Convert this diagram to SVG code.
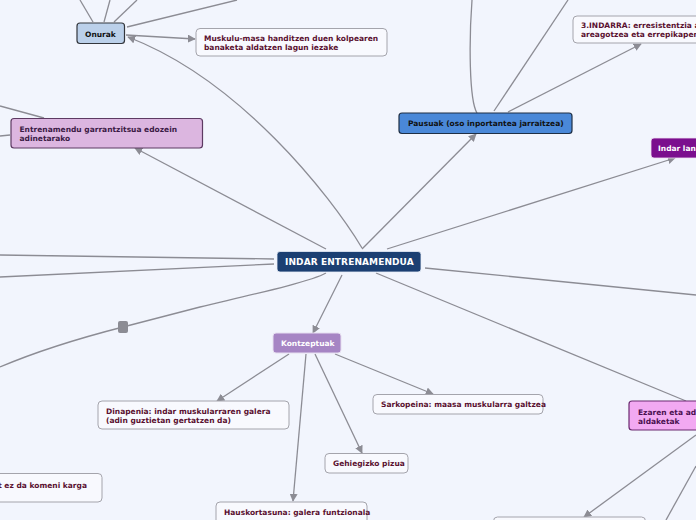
<svg xmlns="http://www.w3.org/2000/svg" width="696" height="520" viewBox="0 0 696 520">
<defs>
<marker id="arr" viewBox="0 0 10 10" refX="9" refY="5" markerWidth="8" markerHeight="8" markerUnits="userSpaceOnUse" orient="auto">
<path d="M0,0 L10,5 L0,10 z" fill="#8c8c94"/>
</marker>
</defs>
<style>
.c{fill:none;stroke:#8c8c94;stroke-width:1.3}
.a{marker-end:url(#arr)}
.t{font-family:"DejaVu Sans",Verdana,sans-serif;font-weight:bold;font-size:7.5px}
.w{fill:#f8f9fe;stroke:#a4a4ac;stroke-width:1}
.m{fill:#5a1030}
</style>
<rect width="696" height="520" fill="#f2f5fd"/>
<g id="connectors">
<path class="c a" d="M362,248 C330,195 240,80 128,37"/>
<path class="c a" d="M126,35 L195,39"/>
<path class="c" d="M93,22 L80,0"/>
<path class="c" d="M104,22 L110,0"/>
<path class="c" d="M114,22 L137,0"/>
<path class="c" d="M127,27 L237,0"/>
<path class="c" d="M44,118 L0,106"/>
<path class="c" d="M0,136 L10,135"/>
<path class="c a" d="M326,249 L135,148"/>
<path class="c a" d="M362,249 L476,134"/>
<path class="c" d="M477,113 C469,100 469,40 472,0"/>
<path class="c" d="M494,111 L568,0"/>
<path class="c a" d="M508,112 L641,44"/>
<path class="c a" d="M387,249 L675,158"/>
<path class="c" d="M425,268 L696,295"/>
<path class="c" d="M376,273 L686,401"/>
<path class="c a" d="M696,435 L584,517"/>
<path class="c" d="M696,466 L666,520"/>
<path class="c" d="M274,259 L0,255"/>
<path class="c" d="M274,264 L0,277"/>
<path class="c" d="M326,273 C310,282 250,295 200,307 L123,327 C80,338 40,350 0,367"/>
<path class="c a" d="M342,275 L313,333"/>
<path class="c a" d="M289,354 L217,401"/>
<path class="c a" d="M306,354 L293,501"/>
<path class="c a" d="M315,354 L362,453"/>
<path class="c a" d="M335,354 L433,394"/>
<rect x="118" y="321" width="10" height="12" rx="2" fill="#8c8c94"/>
</g>
<g id="center">
<rect x="277" y="251.5" width="144" height="20.5" rx="3" fill="#1b3f72" stroke="#e8eef8" stroke-width="0.8"/>
<text class="t" x="285" y="265" fill="#ffffff" font-size="9" style="font-size:9px;letter-spacing:0.1px">INDAR ENTRENAMENDUA</text>
</g>
<g id="onurak">
<rect x="77" y="23" width="47.5" height="20.5" rx="3" fill="#bbd0ea" stroke="#33363c" stroke-width="1.2"/>
<text class="t" x="85" y="36.5" fill="#111">Onurak</text>
</g>
<g id="muskulu">
<rect class="w" x="196" y="28.5" width="191" height="27.5" rx="4"/>
<text class="t m" x="204" y="40.5">Muskulu-masa handitzen duen kolpearen</text>
<text class="t m" x="204" y="49.5">banaketa aldatzen lagun iezake</text>
</g>
<g id="entrenamendu">
<rect x="11" y="118.5" width="191.5" height="29.5" rx="3" fill="#dcb6e0" stroke="#5d3a62" stroke-width="1.2"/>
<text class="t" x="19.5" y="132" fill="#3b1a45">Entrenamendu garrantzitsua edozein</text>
<text class="t" x="19.5" y="141" fill="#3b1a45">adinetarako</text>
</g>
<g id="pausuak">
<rect x="399" y="113" width="173" height="20.5" rx="3" fill="#4a88d8" stroke="#1f2f45" stroke-width="1.2"/>
<text class="t" x="408" y="126" fill="#111">Pausuak (oso inportantea jarraitzea)</text>
</g>
<g id="indarra3">
<rect class="w" x="573" y="16" width="140" height="27" rx="4"/>
<text class="t m" x="581" y="28">3.INDARRA: erresistentzia areagotzea</text>
<text class="t m" x="581" y="37">areagotzea eta errepikapenak</text>
</g>
<g id="indarlan">
<rect x="651" y="138" width="60" height="20" rx="3" fill="#7b0e8e" stroke="#f0e0f4" stroke-width="0.8"/>
<text class="t" x="658" y="150.5" fill="#ffffff">Indar lana</text>
</g>
<g id="kontzeptuak">
<rect x="273" y="333" width="68" height="20" rx="3" fill="#a685c4" stroke="#e6def0" stroke-width="1"/>
<text class="t" x="281" y="346" fill="#ffffff">Kontzeptuak</text>
</g>
<g id="dinapenia">
<rect class="w" x="98" y="401" width="191" height="28" rx="4"/>
<text class="t m" x="106" y="413.5">Dinapenia: indar muskularraren galera</text>
<text class="t m" x="106" y="422.5">(adin guztietan gertatzen da)</text>
</g>
<g id="sarkopenia">
<rect class="w" x="373" y="394.5" width="170" height="19.5" rx="4"/>
<text class="t m" x="381" y="406.5">Sarkopeina: maasa muskularra galtzea</text>
</g>
<g id="gehiegizko">
<rect class="w" x="325" y="453.5" width="83" height="19.5" rx="4"/>
<text class="t m" x="333" y="466">Gehiegizko pizua</text>
</g>
<g id="hauskortasuna">
<rect class="w" x="216" y="502" width="151" height="26" rx="4"/>
<text class="t m" x="224" y="515">Hauskortasuna: galera funtzionala</text>
</g>
<g id="karga">
<rect class="w" x="-20" y="473.5" width="122" height="28.5" rx="4"/>
<text class="t m" x="87" y="487.5" text-anchor="end">at ez da komeni karga</text>
</g>
<g id="ezaren">
<rect x="629" y="401" width="80" height="29" rx="3" fill="#f2a9f2" stroke="#6a2a70" stroke-width="1.2"/>
<text class="t" x="638" y="415" fill="#4a1050">Ezaren eta adina</text>
<text class="t" x="638" y="424" fill="#4a1050">aldaketak</text>
</g>
<g id="bottom">
<rect class="w" x="493.5" y="517" width="152" height="20" rx="4"/>
</g>
</svg>
